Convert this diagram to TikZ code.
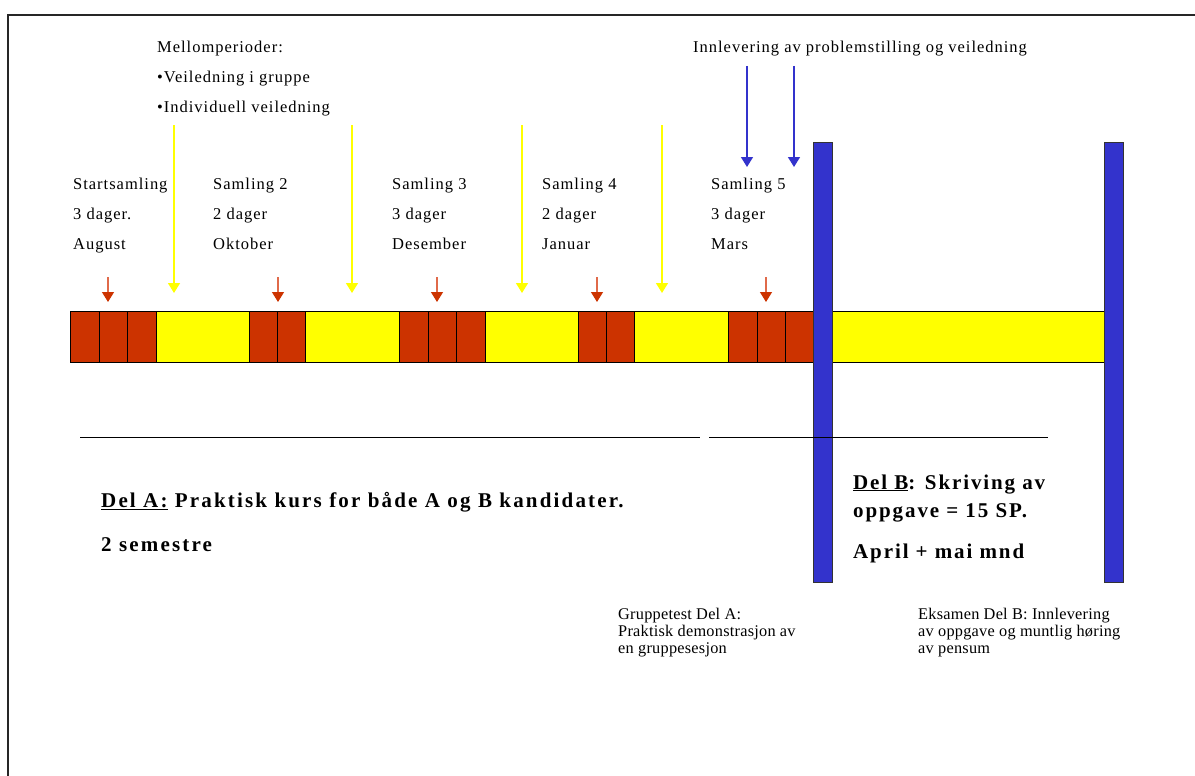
\documentclass[tikz,border=0pt]{standalone}
\usepackage{fontspec}
\setmainfont{Liberation Serif}
\newfontfamily\lblfont[LetterSpace=6]{Liberation Serif}
\newfontfamily\delAfont[LetterSpace=10.3]{Liberation Serif}
\newfontfamily\delBfont[LetterSpace=9]{Liberation Serif}
\newfontfamily\notefont[LetterSpace=1.5]{Liberation Serif}
\usetikzlibrary{arrows.meta}
\definecolor{cellred}{HTML}{CC3300}
\definecolor{celly}{HTML}{FFFF00}
\definecolor{barblue}{HTML}{3333CC}
\definecolor{shaftred}{HTML}{E06A4A}
\begin{document}
\begin{tikzpicture}[x=1pt,y=-1pt,
  lbl/.style={anchor=base west,inner sep=0,font=\lblfont\fontsize{16.5}{20}\selectfont},
  delA/.style={anchor=base west,inner sep=0,font=\delAfont\bfseries\fontsize{21}{25}\selectfont},
  delB/.style={anchor=base west,inner sep=0,font=\delBfont\bfseries\fontsize{21}{25}\selectfont},
  note/.style={anchor=base west,inner sep=0,font=\notefont\fontsize{16.3}{17}\selectfont},
  redcell/.style={draw=black,line width=1pt,fill=cellred},
  ycell/.style={draw=black,line width=1pt,fill=celly},
  bluebar/.style={draw=black!80,line width=1pt,fill=barblue},
  redarr/.style={draw=shaftred,line width=1.3pt,-{Triangle[width=12pt,length=10pt,color=cellred]}},
  yarr/.style={draw=celly,line width=1.5pt,-{Triangle[width=12pt,length=10pt,color=celly]}},
  barr/.style={draw=barblue,line width=1.5pt,-{Triangle[width=12pt,length=10pt,color=barblue]}},
  rule/.style={draw=black,line width=1pt},
  frame/.style={draw=black!85,line width=2pt}
]
\useasboundingbox (0,0) rectangle (1195,776);
% frame
\draw[frame] (8,780) -- (8,15) -- (1200,15);

% timeline cells
\foreach \a/\b in {70/99,99/127,127/156,249/277,277/305,399/428,428/456,456/485,578/606,606/634,728/757,757/785,785/813}
  \path[redcell] (\a,311) rectangle (\b,362);
\foreach \a/\b in {156/249,305/399,485/578,634/728,832/1104}
  \path[ycell] (\a,311) rectangle (\b,362);

% blue bars
\path[bluebar] (813,142) rectangle (832,582);
\path[bluebar] (1104,142) rectangle (1123,582);

% horizontal rules
\coordinate (la1) at (80,437); \coordinate (la2) at (700,437);
\coordinate (lb1) at (709,437); \coordinate (lb2) at (1048,437);
\draw[rule] (la1) -- (la2);
\draw[rule] (lb1) -- (lb2);

% red arrows
\foreach \x [count=\i] in {108,278,437,597,766} {
  \coordinate (rs\i) at (\x,277); \coordinate (re\i) at (\x,302);
  \draw[redarr] (rs\i) -- (re\i);
}
% yellow arrows
\foreach \x [count=\i] in {174,352,522,662} {
  \coordinate (ys\i) at (\x,125); \coordinate (ye\i) at (\x,293);
  \draw[yarr] (ys\i) -- (ye\i);
}
% blue arrows
\foreach \x [count=\i] in {747,794} {
  \coordinate (bs\i) at (\x,66); \coordinate (be\i) at (\x,167);
  \draw[barr] (bs\i) -- (be\i);
}

% session labels
\foreach \x/\p/\q/\r [count=\i] in {73/Startsamling/3 dager./August,
  213/Samling 2/2 dager/Oktober,
  392/Samling 3/3 dager/Desember,
  542/Samling 4/2 dager/Januar,
  711/Samling 5/3 dager/Mars} {
  \node[lbl] (s\i a) at (\x,189) {\p};
  \node[lbl] (s\i b) at (\x,219) {\q};
  \node[lbl] (s\i c) at (\x,249) {\r};
}

% top notes
\node[lbl] (m1) at (157,53) {Mellomperioder:};
\node[lbl] (m2) at (157,83) {•Veiledning i gruppe};
\node[lbl] (m3) at (157,113) {•Individuell veiledning};
\node[lbl] (inn) at (693,53) {Innlevering av problemstilling og veiledning};

% Del A
\node[delA] (da1) at (101,507) {\underline{Del A:} Praktisk kurs for både A og B kandidater.};
\node[delA] (da2) at (101,551) {2 semestre};

% Del B
\node[delB] (db1) at (853,489) {\underline{Del B}: Skriving av};
\node[delB] (db2) at (853,517) {oppgave = 15 SP.};
\node[delB] (db3) at (853,558) {April + mai mnd};

% bottom notes
\node[note] (g1) at (618,619) {Gruppetest Del A:};
\node[note] (g2) at (618,636) {Praktisk demonstrasjon av};
\node[note] (g3) at (618,653) {en gruppesesjon};
\node[note] (e1) at (918,619) {Eksamen Del B: Innlevering};
\node[note] (e2) at (918,636) {av oppgave og muntlig høring};
\node[note] (e3) at (918,653) {av pensum};
\end{tikzpicture}
\end{document}
